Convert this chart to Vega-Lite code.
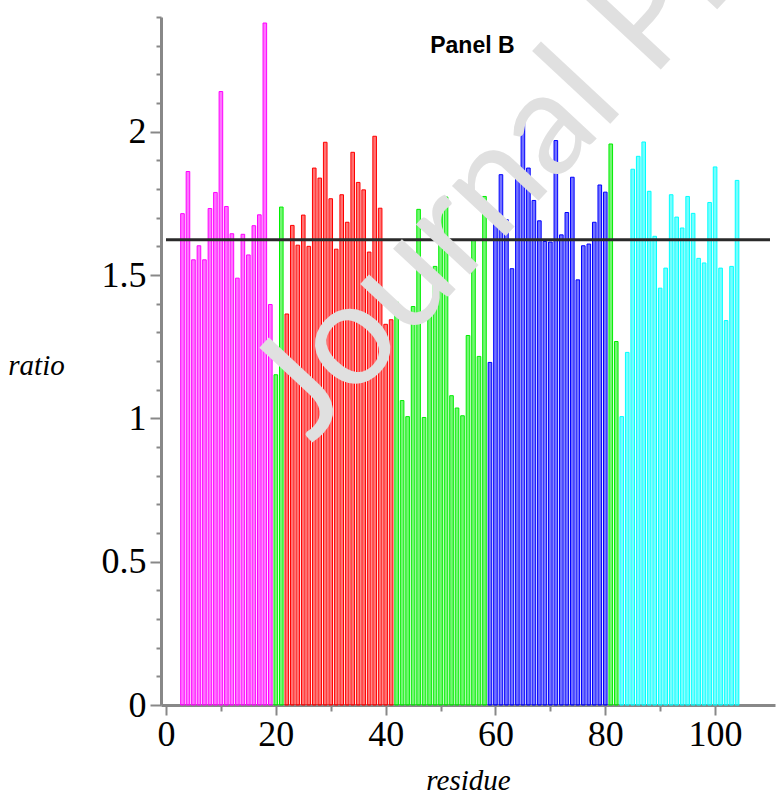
{
  "$schema": "https://vega.github.io/schema/vega-lite/v6.json",
  "width": 614,
  "height": 688,
  "autosize": {"type": "none"},
  "padding": {"left": 161, "top": 17, "right": 5, "bottom": 91},
  "background": "white",
  "config": {"view": {"stroke": null}, "axis": {"labelOverlap": false}},
  "data": {
    "values": [
      {"residue": 3, "ratio": 1.714, "segment": "S1"},
      {"residue": 4, "ratio": 1.861, "segment": "S1"},
      {"residue": 5, "ratio": 1.553, "segment": "S1"},
      {"residue": 6, "ratio": 1.602, "segment": "S1"},
      {"residue": 7, "ratio": 1.553, "segment": "S1"},
      {"residue": 8, "ratio": 1.732, "segment": "S1"},
      {"residue": 9, "ratio": 1.788, "segment": "S1"},
      {"residue": 10, "ratio": 2.14, "segment": "S1"},
      {"residue": 11, "ratio": 1.739, "segment": "S1"},
      {"residue": 12, "ratio": 1.644, "segment": "S1"},
      {"residue": 13, "ratio": 1.489, "segment": "S1"},
      {"residue": 14, "ratio": 1.642, "segment": "S1"},
      {"residue": 15, "ratio": 1.57, "segment": "S1"},
      {"residue": 16, "ratio": 1.672, "segment": "S1"},
      {"residue": 17, "ratio": 1.71, "segment": "S1"},
      {"residue": 18, "ratio": 2.379, "segment": "S1"},
      {"residue": 19, "ratio": 1.397, "segment": "S1"},
      {"residue": 20, "ratio": 1.152, "segment": "L"},
      {"residue": 21, "ratio": 1.737, "segment": "L"},
      {"residue": 22, "ratio": 1.364, "segment": "S2"},
      {"residue": 23, "ratio": 1.673, "segment": "S2"},
      {"residue": 24, "ratio": 1.604, "segment": "S2"},
      {"residue": 25, "ratio": 1.709, "segment": "S2"},
      {"residue": 26, "ratio": 1.6, "segment": "S2"},
      {"residue": 27, "ratio": 1.873, "segment": "S2"},
      {"residue": 28, "ratio": 1.838, "segment": "S2"},
      {"residue": 29, "ratio": 1.963, "segment": "S2"},
      {"residue": 30, "ratio": 1.766, "segment": "S2"},
      {"residue": 31, "ratio": 1.59, "segment": "S2"},
      {"residue": 32, "ratio": 1.78, "segment": "S2"},
      {"residue": 33, "ratio": 1.684, "segment": "S2"},
      {"residue": 34, "ratio": 1.928, "segment": "S2"},
      {"residue": 35, "ratio": 1.823, "segment": "S2"},
      {"residue": 36, "ratio": 1.797, "segment": "S2"},
      {"residue": 37, "ratio": 1.58, "segment": "S2"},
      {"residue": 38, "ratio": 1.984, "segment": "S2"},
      {"residue": 39, "ratio": 1.733, "segment": "S2"},
      {"residue": 40, "ratio": 1.328, "segment": "S2"},
      {"residue": 41, "ratio": 1.344, "segment": "S2"},
      {"residue": 42, "ratio": 1.405, "segment": "L"},
      {"residue": 43, "ratio": 1.062, "segment": "L"},
      {"residue": 44, "ratio": 1.006, "segment": "L"},
      {"residue": 45, "ratio": 1.39, "segment": "L"},
      {"residue": 46, "ratio": 1.729, "segment": "L"},
      {"residue": 47, "ratio": 1.003, "segment": "L"},
      {"residue": 48, "ratio": 1.382, "segment": "L"},
      {"residue": 49, "ratio": 1.53, "segment": "L"},
      {"residue": 50, "ratio": 1.74, "segment": "L"},
      {"residue": 51, "ratio": 1.772, "segment": "L"},
      {"residue": 52, "ratio": 1.079, "segment": "L"},
      {"residue": 53, "ratio": 1.036, "segment": "L"},
      {"residue": 54, "ratio": 1.009, "segment": "L"},
      {"residue": 55, "ratio": 1.289, "segment": "L"},
      {"residue": 56, "ratio": 1.623, "segment": "L"},
      {"residue": 57, "ratio": 1.216, "segment": "L"},
      {"residue": 58, "ratio": 1.774, "segment": "L"},
      {"residue": 59, "ratio": 1.195, "segment": "S3"},
      {"residue": 60, "ratio": 1.697, "segment": "S3"},
      {"residue": 61, "ratio": 1.85, "segment": "S3"},
      {"residue": 62, "ratio": 1.693, "segment": "S3"},
      {"residue": 63, "ratio": 1.522, "segment": "S3"},
      {"residue": 64, "ratio": 1.867, "segment": "S3"},
      {"residue": 65, "ratio": 2.063, "segment": "S3"},
      {"residue": 66, "ratio": 1.873, "segment": "S3"},
      {"residue": 67, "ratio": 1.76, "segment": "S3"},
      {"residue": 68, "ratio": 1.689, "segment": "S3"},
      {"residue": 69, "ratio": 1.617, "segment": "S3"},
      {"residue": 70, "ratio": 1.615, "segment": "S3"},
      {"residue": 71, "ratio": 1.969, "segment": "S3"},
      {"residue": 72, "ratio": 1.64, "segment": "S3"},
      {"residue": 73, "ratio": 1.718, "segment": "S3"},
      {"residue": 74, "ratio": 1.841, "segment": "S3"},
      {"residue": 75, "ratio": 1.483, "segment": "S3"},
      {"residue": 76, "ratio": 1.602, "segment": "S3"},
      {"residue": 77, "ratio": 1.608, "segment": "S3"},
      {"residue": 78, "ratio": 1.684, "segment": "S3"},
      {"residue": 79, "ratio": 1.814, "segment": "S3"},
      {"residue": 80, "ratio": 1.789, "segment": "S3"},
      {"residue": 81, "ratio": 1.957, "segment": "L"},
      {"residue": 82, "ratio": 1.268, "segment": "L"},
      {"residue": 83, "ratio": 1.006, "segment": "S4"},
      {"residue": 84, "ratio": 1.23, "segment": "S4"},
      {"residue": 85, "ratio": 1.869, "segment": "S4"},
      {"residue": 86, "ratio": 1.914, "segment": "S4"},
      {"residue": 87, "ratio": 1.964, "segment": "S4"},
      {"residue": 88, "ratio": 1.792, "segment": "S4"},
      {"residue": 89, "ratio": 1.635, "segment": "S4"},
      {"residue": 90, "ratio": 1.454, "segment": "S4"},
      {"residue": 91, "ratio": 1.524, "segment": "S4"},
      {"residue": 92, "ratio": 1.78, "segment": "S4"},
      {"residue": 93, "ratio": 1.702, "segment": "S4"},
      {"residue": 94, "ratio": 1.664, "segment": "S4"},
      {"residue": 95, "ratio": 1.774, "segment": "S4"},
      {"residue": 96, "ratio": 1.715, "segment": "S4"},
      {"residue": 97, "ratio": 1.558, "segment": "S4"},
      {"residue": 98, "ratio": 1.542, "segment": "S4"},
      {"residue": 99, "ratio": 1.753, "segment": "S4"},
      {"residue": 100, "ratio": 1.877, "segment": "S4"},
      {"residue": 101, "ratio": 1.524, "segment": "S4"},
      {"residue": 102, "ratio": 1.341, "segment": "S4"},
      {"residue": 103, "ratio": 1.53, "segment": "S4"},
      {"residue": 104, "ratio": 1.83, "segment": "S4"}
    ]
  },
  "encoding": {
    "x": {
      "field": "residue",
      "type": "quantitative",
      "scale": {"domain": [0, 110], "nice": false, "zero": false},
      "axis": {
        "values": [0, 10, 20, 30, 40, 50, 60, 70, 80, 90, 100],
        "labelExpr": "datum.value % 20 === 0 ? datum.label : ''",
        "labelFont": "Liberation Serif",
        "labelFontSize": 36,
        "labelColor": "black",
        "labelPadding": 2,
        "labelOverlap": false,
        "labelFlush": false,
        "tickSize": {"condition": {"test": "datum.value % 20 === 0", "value": 10}, "value": 6},
        "tickColor": "#888888",
        "tickWidth": 2,
        "domainColor": "#888888",
        "domainWidth": 3,
        "grid": false,
        "title": "residue",
        "titleFont": "Liberation Serif",
        "titleFontStyle": "italic",
        "titleFontWeight": "normal",
        "titleFontSize": 29,
        "titleColor": "black",
        "titleX": 307,
        "titleY": 75,
        "titleAlign": "center",
        "titleBaseline": "middle"
      }
    },
    "y": {
      "field": "ratio",
      "type": "quantitative",
      "scale": {"domain": [0, 2.4], "nice": false},
      "axis": {
        "values": [0, 0.1, 0.2, 0.3, 0.4, 0.5, 0.6, 0.7, 0.8, 0.9, 1, 1.1, 1.2, 1.3, 1.4, 1.5, 1.6, 1.7, 1.8, 1.9, 2, 2.1, 2.2, 2.3, 2.4],
        "labelExpr": "abs(datum.value*2 - round(datum.value*2)) < 0.001 ? format(datum.value, '~g') : ''",
        "labelFont": "Liberation Serif",
        "labelFontSize": 36,
        "labelColor": "black",
        "labelPadding": 4,
        "labelOverlap": false,
        "labelFlush": false,
        "tickSize": {"condition": {"test": "abs(datum.value*2 - round(datum.value*2)) < 0.001", "value": 11}, "value": 5},
        "tickColor": "#888888",
        "tickWidth": 2,
        "domainColor": "#888888",
        "domainWidth": 3,
        "grid": false,
        "title": "ratio",
        "titleFont": "Liberation Serif",
        "titleFontStyle": "italic",
        "titleFontWeight": "normal",
        "titleFontSize": 29,
        "titleColor": "black",
        "titleAngle": 0,
        "titleX": -125,
        "titleY": 348,
        "titleAlign": "center",
        "titleBaseline": "middle"
      }
    }
  },
  "layer": [
    {
      "mark": {"type": "bar", "width": 3.6, "strokeWidth": 1, "fillOpacity": 0.55},
      "encoding": {
        "fill": {
          "field": "segment",
          "type": "nominal",
          "scale": {"domain": ["S1", "L", "S2", "S3", "S4"], "range": ["#ff00ff", "#00ee00", "#ff0000", "#0000ff", "#00ffff"]},
          "legend": null
        },
        "stroke": {
          "field": "segment",
          "type": "nominal",
          "scale": {"domain": ["S1", "L", "S2", "S3", "S4"], "range": ["#ff00ff", "#00ee00", "#ff0000", "#0000ff", "#00ffff"]},
          "legend": null
        }
      }
    },
    {
      "data": {"values": [{"residue": 0, "residue_end": 110, "ratio": 1.623}]},
      "mark": {"type": "rule", "color": "#2a2a2a", "strokeWidth": 3},
      "encoding": {"x2": {"field": "residue_end"}}
    },
    {
      "data": {"values": [{"label": "Journal Pre-proof", "residue": 26.5, "ratio": 0.91}]},
      "mark": {"type": "text", "font": "Lato", "fontSize": 145, "color": "#e0e0e0", "angle": 313, "align": "left", "baseline": "alphabetic"},
      "encoding": {"text": {"field": "label"}}
    },
    {
      "data": {"values": [{"label": "Panel B", "residue": 55.8, "ratio": 2.3}]},
      "mark": {"type": "text", "font": "Liberation Sans", "fontWeight": "bold", "fontSize": 23, "color": "black", "align": "center", "baseline": "middle"},
      "encoding": {"text": {"field": "label"}}
    }
  ]
}
